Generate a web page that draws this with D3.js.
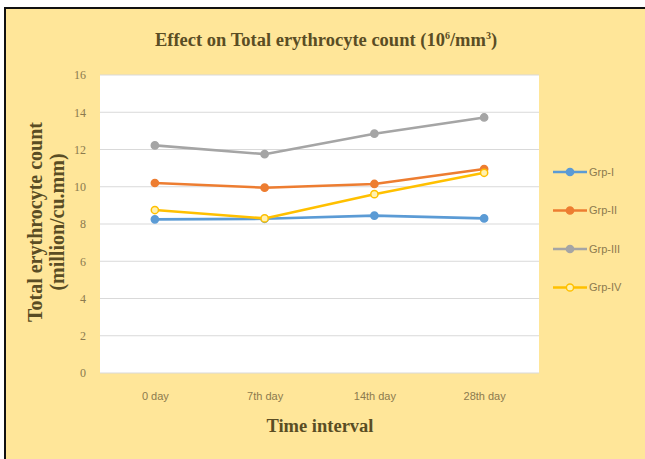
<!DOCTYPE html>
<html>
<head>
<meta charset="utf-8">
<script src="https://cdn.jsdelivr.net/npm/d3@7"></script>
<style>
  html, body { margin: 0; padding: 0; background: #fff; }
  svg { display: block; }
</style>
</head>
<body>
<script>
// Data
const days = ["0 day", "7th day", "14th day", "28th day"];
const grpI = [8.25, 8.28, 8.45, 8.3];
const grpII = [10.2, 9.95, 10.15, 10.95];
const grpIII = [12.22, 11.75, 12.85, 13.72];
const grpIV = [8.75, 8.3, 9.6, 10.75];
const yTicks = [0, 2, 4, 6, 8, 10, 12, 14, 16];

const series = [
  { name: "Grp-I", values: grpI, color: "#5b9bd5", fill: "#5b9bd5" },
  { name: "Grp-II", values: grpII, color: "#ed7d31", fill: "#ed7d31" },
  { name: "Grp-III", values: grpIII, color: "#a5a5a5", fill: "#a5a5a5" },
  { name: "Grp-IV", values: grpIV, color: "#ffc000", fill: "#fff1b0" },
];

const width = 645;
const height = 459;

// Plot area
const plotLeft = 100;
const plotRight = 539;
const plotTop = 75;
const plotBottom = 373;

const svg = d3
  .select("body")
  .append("svg")
  .attr("width", width)
  .attr("height", height);

// Yellow chart background with black frame on top/left
svg
  .append("rect")
  .attr("x", 5)
  .attr("y", 8)
  .attr("width", width)
  .attr("height", height)
  .attr("fill", "#ffe699")
  .attr("stroke", "#111")
  .attr("stroke-width", 2);

// Plot area
svg
  .append("rect")
  .attr("x", plotLeft)
  .attr("y", plotTop)
  .attr("width", plotRight - plotLeft)
  .attr("height", plotBottom - plotTop)
  .attr("fill", "#fff");

// Scales
const xScale = d3
  .scalePoint()
  .domain(days)
  .range([plotLeft, plotRight])
  .padding(0.5);

const yScale = d3.scaleLinear().domain([0, 16]).range([plotBottom, plotTop]);

// Gridlines
svg
  .append("g")
  .attr("class", "grid")
  .selectAll("line")
  .data(yTicks)
  .join("line")
  .attr("x1", plotLeft)
  .attr("x2", plotRight)
  .attr("y1", (d) => yScale(d))
  .attr("y2", (d) => yScale(d))
  .attr("stroke", "#d9d9d9")
  .attr("stroke-width", 1);

// Y axis
svg
  .append("g")
  .attr("class", "y-axis")
  .attr("transform", `translate(${plotLeft - 11},0)`)
  .call(d3.axisLeft(yScale).tickValues(yTicks).tickSize(0))
  .call((g) => g.select(".domain").remove())
  .selectAll("text")
  .attr("font-family", "Liberation Serif, serif")
  .attr("font-size", 12)
  .attr("fill", "#8c7a4e");

// X axis
svg
  .append("g")
  .attr("class", "x-axis")
  .attr("transform", `translate(0,${plotBottom + 16})`)
  .call(d3.axisBottom(xScale).tickSize(0))
  .call((g) => g.select(".domain").remove())
  .selectAll("text")
  .attr("font-family", "Liberation Sans Narrow, Liberation Sans, sans-serif")
  .attr("font-size", 11)
  .attr("fill", "#8c7a4e");

// Lines
const line = d3
  .line()
  .x((d, i) => xScale(days[i]))
  .y((d) => yScale(d));

const groups = svg
  .append("g")
  .attr("class", "series")
  .selectAll("g")
  .data(series)
  .join("g");

groups
  .append("path")
  .attr("d", (d) => line(d.values))
  .attr("fill", "none")
  .attr("stroke", (d) => d.color)
  .attr("stroke-width", 2.6)
  .attr("stroke-linejoin", "round");

groups
  .selectAll("circle")
  .data((d) => d.values.map((v, i) => ({ v, i, s: d })))
  .join("circle")
  .attr("cx", (d) => xScale(days[d.i]))
  .attr("cy", (d) => yScale(d.v))
  .attr("r", 3.6)
  .attr("fill", (d) => d.s.fill)
  .attr("stroke", (d) => d.s.color)
  .attr("stroke-width", 1.5);

// Legend
const legend = svg
  .append("g")
  .attr("class", "legend")
  .selectAll("g")
  .data(series)
  .join("g")
  .attr("transform", (d, i) => `translate(553,${172 + i * 38.5})`);

legend
  .append("line")
  .attr("x1", 0)
  .attr("x2", 34)
  .attr("stroke", (d) => d.color)
  .attr("stroke-width", 2.6);

legend
  .append("circle")
  .attr("cx", 17)
  .attr("r", 3.6)
  .attr("fill", (d) => d.fill)
  .attr("stroke", (d) => d.color)
  .attr("stroke-width", 1.5);

legend
  .append("text")
  .attr("x", 36)
  .attr("dy", "0.35em")
  .attr("font-family", "Liberation Sans Narrow, Liberation Sans, sans-serif")
  .attr("font-size", 11)
  .attr("fill", "#8c7a4e")
  .text((d) => d.name);

// Title
const title = svg
  .append("text")
  .attr("x", 326)
  .attr("y", 46)
  .attr("text-anchor", "middle")
  .attr("font-family", "Liberation Serif, serif")
  .attr("font-weight", 700)
  .attr("font-size", 18.5)
  .attr("fill", "#5a4d24");
title.append("tspan").text("Effect on Total erythrocyte count (10");
title.append("tspan").attr("font-size", 10).attr("dy", -7).text("6");
title.append("tspan").attr("dy", 7).text("/mm");
title.append("tspan").attr("font-size", 10).attr("dy", -7).text("3");
title.append("tspan").attr("dy", 7).text(")");

// Y axis title
const yTitle = svg
  .append("text")
  .attr("transform", "translate(42,222) rotate(-90)")
  .attr("text-anchor", "middle")
  .attr("font-family", "Liberation Serif, serif")
  .attr("font-weight", 700)
  .attr("font-size", 20)
  .attr("fill", "#5a4d24");
yTitle.append("tspan").attr("x", 0).text("Total erythrocyte count");
yTitle.append("tspan").attr("x", 0).attr("dy", 22).text("(million/cu.mm)");

// X axis title
svg
  .append("text")
  .attr("x", 320)
  .attr("y", 432)
  .attr("text-anchor", "middle")
  .attr("font-family", "Liberation Serif, serif")
  .attr("font-weight", 700)
  .attr("font-size", 18.5)
  .attr("fill", "#5a4d24")
  .text("Time interval");
</script>
</body>
</html>
